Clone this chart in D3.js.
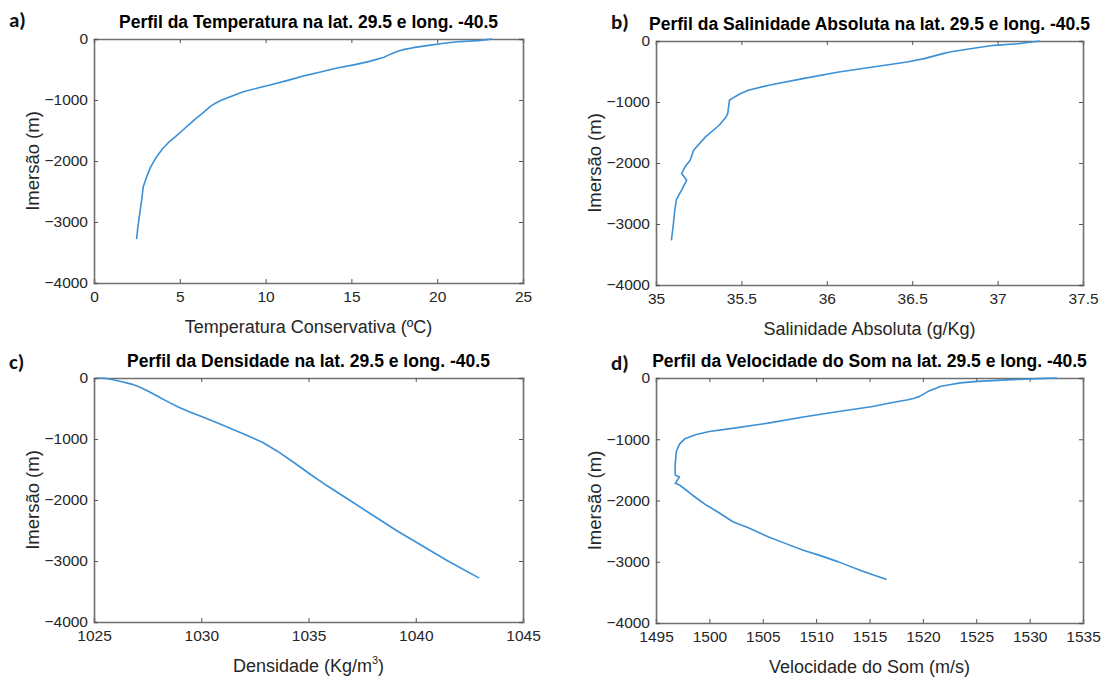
<!DOCTYPE html>
<html><head><meta charset="utf-8">
<script src="https://cdn.jsdelivr.net/npm/d3@7"></script>
<style>
body{margin:0;background:#fff;}
svg{display:block;font-family:"Liberation Sans",Arial,Helvetica,sans-serif;}
</style></head><body>
<svg id="c" width="1105" height="680"></svg>
<script>
// ---- data ----
const tempDepth = [0,-10,-27,-44,-70,-100,-142,-170,-200,-260,-300,-371,-420,-480,-540,-600,-670,-754,-800,-864,-933,-1000,-1050,-1100,-1200,-1300,-1400,-1500,-1600,-1700,-1800,-1929,-2100,-2257,-2421,-2639,-2913,-3100,-3280];
const tempValues = [23.2,22.9,22.4,21.2,20.4,19.6,18.6,18.1,17.7,17.2,16.9,16.0,15.2,14.1,13.2,12.3,11.4,10.26,9.6,8.7,8.05,7.45,7.1,6.8,6.4,5.95,5.55,5.15,4.75,4.33,4.0,3.65,3.3,3.07,2.87,2.78,2.64,2.55,2.48];

const salDepth = [0,-44,-71,-126,-180,-207,-289,-344,-426,-507,-617,-726,-808,-870,-917,-971,-1190,-1244,-1381,-1572,-1790,-1954,-2063,-2172,-2281,-2445,-2598,-2772,-3045,-3270];
const salValues = [37.246,37.12,36.98,36.84,36.72,36.68,36.57,36.47,36.27,36.07,35.86,35.66,35.54,35.49,35.46,35.43,35.42,35.41,35.37,35.29,35.22,35.20,35.17,35.15,35.18,35.15,35.12,35.11,35.10,35.09];

const denDepth = [0,-5,-30,-60,-100,-153,-230,-316,-400,-480,-560,-644,-750,-862,-960,-1053,-1200,-1381,-1570,-1763,-2000,-2250,-2500,-2750,-3000,-3280];
const denValues = [1025.14,1025.5,1025.9,1026.3,1026.75,1027.15,1027.6,1028.05,1028.5,1028.95,1029.5,1030.1,1030.85,1031.6,1032.25,1032.85,1033.55,1034.3,1035.05,1035.85,1036.9,1038.0,1039.1,1040.3,1041.5,1042.96];

const sndDepth = [0,-11,-27,-55,-80,-109,-140,-164,-218,-260,-300,-330,-355,-409,-464,-546,-638,-737,-819,-873,-928,-993,-1080,-1200,-1419,-1583,-1615,-1640,-1720,-1746,-1800,-1910,-2000,-2074,-2200,-2347,-2450,-2593,-2700,-2811,-2900,-3002,-3150,-3290];
const sndValues = [1532.56,1530.9,1528.3,1525.1,1523.5,1522.5,1521.6,1521.3,1520.5,1520.1,1519.7,1519.2,1518.6,1516.9,1515.3,1512.1,1508.8,1505.5,1502.3,1500.0,1498.7,1497.7,1497.2,1496.9,1496.8,1496.8,1497.2,1497.1,1496.8,1497.2,1497.6,1498.4,1499.1,1499.7,1500.9,1502.2,1503.7,1505.5,1507.1,1508.8,1510.4,1512.1,1514.3,1516.6];

const depthTicks = [0,-1000,-2000,-3000,-4000];
const tempTicks = [0,5,10,15,20,25];
const salTicks = [35,35.5,36,36.5,37,37.5];
const denTicks = [1025,1030,1035,1040,1045];
const sndTicks = [1495,1500,1505,1510,1515,1520,1525,1530,1535];

const panels = [
  {label:"a)", title:"Perfil da Temperatura na lat. 29.5 e long. -40.5", xlab:"Temperatura Conservativa (ºC)",
   x:[0,25], ticks:tempTicks, xs:tempValues, ys:tempDepth, box:[94,39,523,283], lab:[9,20]},
  {label:"b)", title:"Perfil da Salinidade Absoluta na lat. 29.5 e long. -40.5", xlab:"Salinidade Absoluta (g/Kg)",
   x:[35,37.5], ticks:salTicks, xs:salValues, ys:salDepth, box:[656,41,1083,285], lab:[611,22]},
  {label:"c)", title:"Perfil da Densidade na lat. 29.5 e long. -40.5", xlab:"Densidade (Kg/m",
   x:[1025,1045], ticks:denTicks, xs:denValues, ys:denDepth, box:[94,378,523,622], lab:[9,362], sup:true},
  {label:"d)", title:"Perfil da Velocidade do Som na lat. 29.5 e long. -40.5", xlab:"Velocidade do Som (m/s)",
   x:[1495,1535], ticks:sndTicks, xs:sndValues, ys:sndDepth, box:[656,378,1083,623], lab:[611,363]}
];

const svg = d3.select("#c");
const axisCol = "#262626";

panels.forEach(p => {
  const [x0,y0,x1,y1] = p.box;
  const x = d3.scaleLinear().domain(p.x).range([x0,x1]);
  const y = d3.scaleLinear().domain([0,-4000]).range([y0,y1]);
  const g = svg.append("g");

  const bx = g.append("g").attr("transform",`translate(0,${y1})`)
    .call(d3.axisBottom(x).tickValues(p.ticks).tickSize(-4).tickPadding(8).tickFormat(d3.format("")));
  const tx = g.append("g").attr("transform",`translate(0,${y0})`)
    .call(d3.axisTop(x).tickValues(p.ticks).tickSize(-4).tickFormat(""));
  const ly = g.append("g").attr("transform",`translate(${x0},0)`)
    .call(d3.axisLeft(y).tickValues(depthTicks).tickSize(-4).tickPadding(6).tickFormat(d3.format("")));
  const ry = g.append("g").attr("transform",`translate(${x1},0)`)
    .call(d3.axisRight(y).tickValues(depthTicks).tickSize(-4).tickFormat(""));
  [bx,tx,ly,ry].forEach(a=>{
    a.select(".domain").attr("stroke","#707070").attr("stroke-width",1.6);
    a.selectAll(".tick line").attr("stroke","#555").attr("stroke-width",1);
    a.selectAll(".tick text").attr("fill",axisCol).attr("font-size",15.5);
  });

  const data = p.xs.map((v,i)=>[v,p.ys[i]]);
  g.append("path").datum(data)
    .attr("fill","none").attr("stroke","#3c90d6").attr("stroke-width",1.6)
    .attr("stroke-linejoin","round")
    .attr("d", d3.line().x(d=>x(d[0])).y(d=>y(d[1])));

  g.append("text").attr("x",(x0+x1)/2).attr("y",y0-11).attr("text-anchor","middle")
    .attr("font-weight","bold").attr("font-size",17.5).attr("fill","#000").text(p.title);

  const xl = g.append("text").attr("x",(x0+x1)/2).attr("y",y1+50).attr("text-anchor","middle")
    .attr("font-size",18).attr("fill",axisCol).text(p.xlab);
  if(p.sup){
    xl.append("tspan").attr("font-size",11).attr("dy",-8).text("3");
    xl.append("tspan").attr("dy",8).text(")");
  }
  g.append("text").attr("transform",`translate(${x0-55},${(y0+y1)/2}) rotate(-90)`)
    .attr("text-anchor","middle").attr("font-size",18.5).attr("fill",axisCol).text("Imersão (m)");

  svg.append("text").attr("x",p.lab[0]).attr("y",p.lab[1]+7)
    .attr("font-family","Carlito, 'Liberation Sans', sans-serif")
    .attr("font-weight","bold").attr("font-size",21).attr("fill","#111").text(p.label);
});
</script>
</body></html>
